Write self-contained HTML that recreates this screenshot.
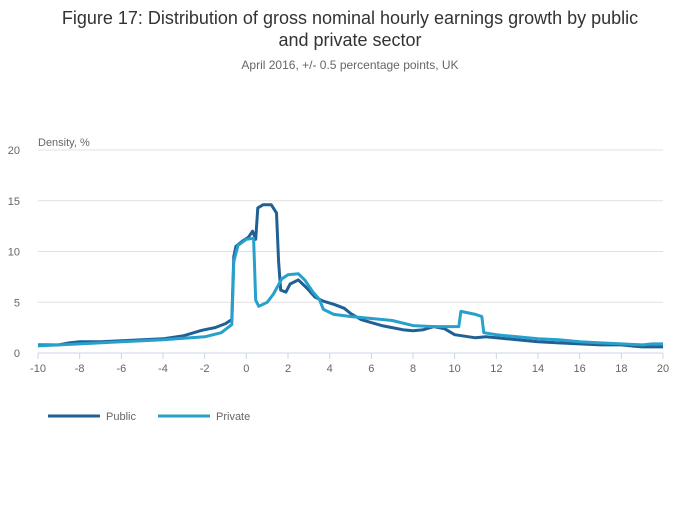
<!DOCTYPE html>
<html><head><meta charset="utf-8"><style>
body{margin:0;background:#fff;font-family:"Liberation Sans",sans-serif;}
svg text{font-family:"Liberation Sans",sans-serif;}
</style></head><body>
<svg width="700" height="502" viewBox="0 0 700 502" xmlns="http://www.w3.org/2000/svg">
<text x="350" y="24" text-anchor="middle" font-size="18" fill="#333">Figure 17: Distribution of gross nominal hourly earnings growth by public</text>
<text x="350" y="46" text-anchor="middle" font-size="18" fill="#333">and private sector</text>
<text x="350" y="69" text-anchor="middle" font-size="12" fill="#666">April 2016, +/- 0.5 percentage points, UK</text>
<text x="38" y="146" font-size="11" fill="#666">Density, %</text>
<g id="grid"></g><g id="series"></g>
<g>
<line x1="48" y1="416" x2="100" y2="416" stroke="#206095" stroke-width="3"/>
<text x="106" y="420" font-size="11" fill="#666">Public</text>
<line x1="158" y1="416" x2="210" y2="416" stroke="#27a0cc" stroke-width="3"/>
<text x="216" y="420" font-size="11" fill="#666">Private</text>
</g>
</svg>
<script>
const xTicks=[-10,-8,-6,-4,-2,0,2,4,6,8,10,12,14,16,18,20];
const yTicks=[0,5,10,15,20];
const publicX=[-10,-9,-8.5,-8,-7,-6,-5,-4,-3,-2.2,-2,-1.5,-1,-0.7,-0.6,-0.5,-0.2,0.1,0.3,0.45,0.55,0.8,1.2,1.45,1.55,1.65,1.9,2.1,2.5,2.9,3.3,3.7,4.2,4.7,5,5.5,6,6.5,7,7.5,8,8.5,9,9.5,10,11,11.5,12,13,14,15,16,17,18,19,20];
const publicY=[0.8,0.8,1.0,1.1,1.1,1.2,1.3,1.4,1.7,2.2,2.3,2.5,2.9,3.3,9.5,10.5,11.0,11.4,12.0,11.2,14.3,14.6,14.6,13.8,9,6.2,6.0,6.8,7.2,6.4,5.5,5.1,4.8,4.4,3.9,3.3,3.0,2.7,2.5,2.3,2.2,2.3,2.6,2.4,1.8,1.5,1.6,1.5,1.3,1.1,1.0,0.9,0.8,0.8,0.6,0.6];
const privateX=[-10,-8,-6,-4,-2,-1.2,-0.7,-0.6,-0.4,0,0.35,0.45,0.6,1.0,1.3,1.7,2.0,2.5,2.8,3.2,3.5,3.7,4.2,5,6,7,8,9,10.2,10.3,11,11.3,11.4,12,13,14,15,16,17,18,19,19.5,20];
const privateY=[0.7,0.9,1.1,1.3,1.6,2.0,2.8,9.0,10.6,11.2,11.3,5.2,4.6,5.0,5.8,7.3,7.7,7.8,7.2,6.0,5.3,4.3,3.8,3.6,3.4,3.2,2.7,2.6,2.6,4.1,3.8,3.6,2.0,1.8,1.6,1.4,1.3,1.1,1.0,0.9,0.8,0.9,0.9];
const X0=38,X1=663,Y0=353,Y1=150;
const sx=v=>X0+(v+10)/30*(X1-X0);
const sy=v=>Y0-v/20*(Y0-Y1);
const NS="http://www.w3.org/2000/svg";
const grid=document.getElementById('grid'),ser=document.getElementById('series');
function mk(tag,attrs,parent){const e=document.createElementNS(NS,tag);for(const k in attrs)e.setAttribute(k,attrs[k]);parent.appendChild(e);return e;}
yTicks.forEach(t=>{
 const l=mk('line',{x1:X0,x2:X1,y1:sy(t),y2:sy(t),stroke:t===0?'#ccd6e6':'#e0e0e0','stroke-width':1},grid);
 
 
 const tx=mk('text',{x:20,y:sy(t)+4,'font-size':11,fill:'#666','text-anchor':'end'},grid);tx.textContent=t;
 
 
});
xTicks.forEach(t=>{
 const l=mk('line',{x1:sx(t),x2:sx(t),y1:Y0,y2:Y0+6,stroke:'#ccd6e6'},grid);
 
 
 const tx=mk('text',{x:sx(t),y:Y0+19,'font-size':11,fill:'#666','text-anchor':'middle'},grid);tx.textContent=t;
 
 
});
function line(xs,ys,color,name){
 const d=xs.map((x,i)=>(i?'L':'M')+sx(x).toFixed(1)+','+sy(ys[i]).toFixed(1)).join('');
 const p=mk('path',{d:d,fill:'none',stroke:color,'stroke-width':3,'stroke-linejoin':'round'},ser);
 
 
}
line(publicX,publicY,'#206095','public-line');
line(privateX,privateY,'#27a0cc','private-line');
</script>
</body></html>
